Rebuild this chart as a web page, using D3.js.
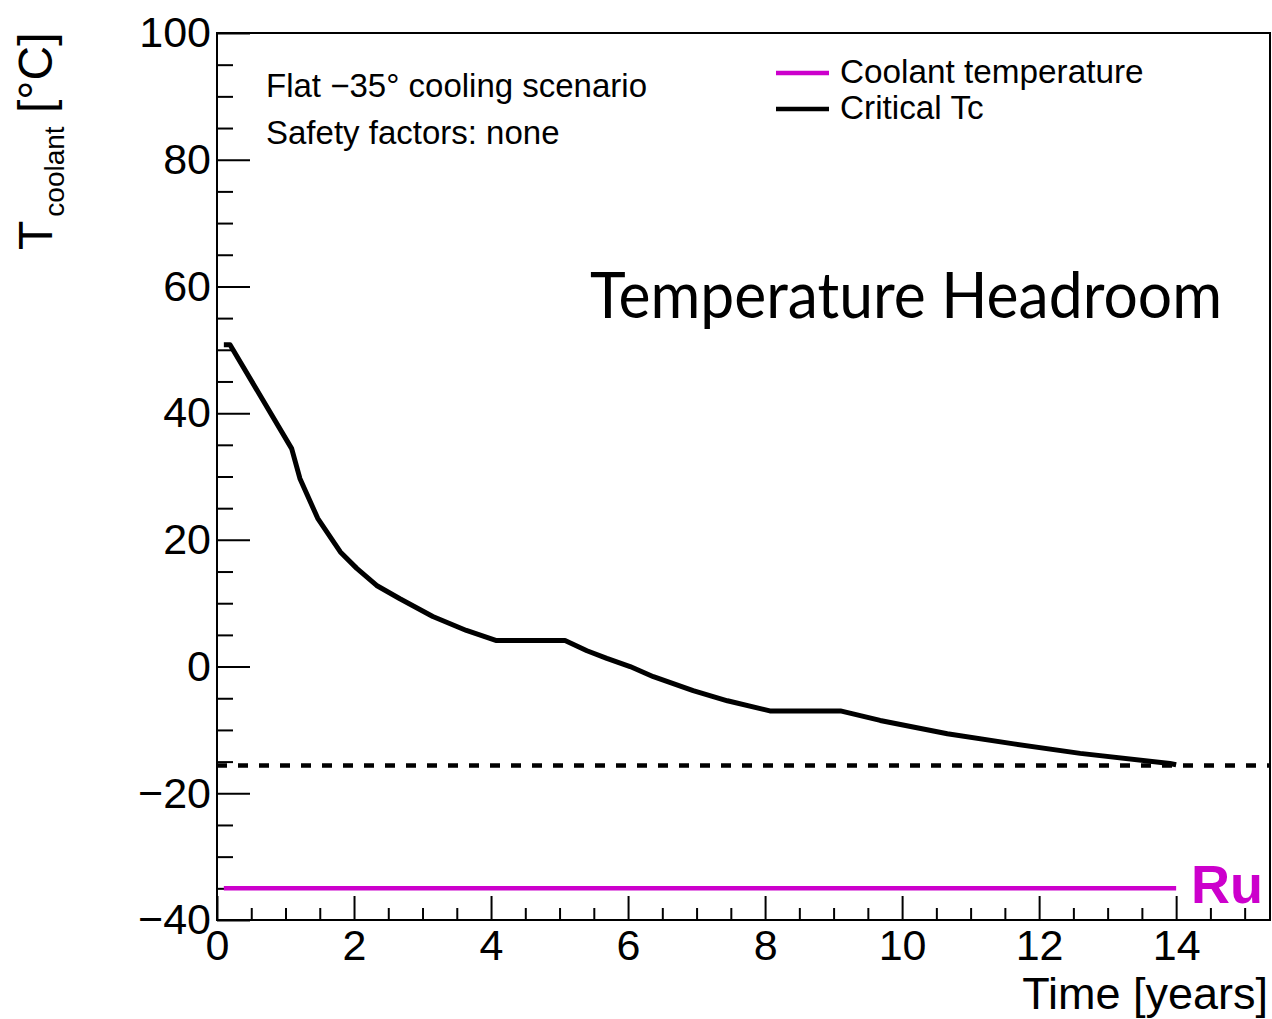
<!DOCTYPE html>
<html>
<head>
<meta charset="utf-8">
<script src="https://cdn.jsdelivr.net/npm/d3@7"></script>
<style>
  html, body { margin: 0; padding: 0; background: #fff; }
  svg { display: block; }
  text { font-family: "Liberation Sans", Arial, Helvetica, sans-serif; fill: #000; }
</style>
</head>
<body>
<svg id="chart" width="1272" height="1019"></svg>
<script>
// ---- Data ----
const timeYears = [0.10, 0.19, 1.09, 1.21, 1.47, 1.80, 2.04, 2.33, 2.67, 3.15, 3.64, 4.08, 5.08, 5.40, 5.69, 6.03, 6.37, 6.95, 7.45, 8.07, 9.10, 9.68, 10.66, 11.63, 12.60, 13.91, 14.00];
const criticalTc = [50.8, 50.8, 34.4, 29.7, 23.4, 18.1, 15.5, 12.8, 10.7, 7.9, 5.7, 4.1, 4.1, 2.5, 1.3, 0.0, -1.6, -3.8, -5.4, -7.0, -7.0, -8.5, -10.6, -12.2, -13.7, -15.3, -15.5];
const coolantTime = [0.1, 14.0];
const coolantTemp = [-35, -35];
const headroomLimit = -15.6;
const xMajorTicks = [0, 2, 4, 6, 8, 10, 12, 14];
const yMajorTicks = [-40, -20, 0, 20, 40, 60, 80, 100];
const xDomain = [0, 15.37];
const yDomain = [-40, 100];
const legendLabels = ["Coolant temperature", "Critical Tc"];
const infoLines = ["Flat \u221235\u00B0 cooling scenario", "Safety factors: none"];

// ---- Layout ----
const L = 217, R = 1270, T = 33, B = 920;
const svg = d3.select("#chart");
const x = d3.scaleLinear().domain(xDomain).range([L, R]);
const y = d3.scaleLinear().domain(yDomain).range([B, T]);
const MAG = "#cc00cc";

// minor ticks
const xMinor = d3.range(0, 15.37, 0.5).filter(v => Math.abs(v % 2) > 1e-9);
const yMinor = d3.range(-40, 100.01, 5).filter(v => Math.abs(v % 20) > 1e-9);

// X axis
const gx = svg.append("g").attr("transform", `translate(0,${B})`);
gx.call(d3.axisBottom(x).tickValues(xMajorTicks).tickSize(-24).tickPadding(9).tickFormat(d3.format("d")));
const gxm = svg.append("g").attr("transform", `translate(0,${B})`);
gxm.call(d3.axisBottom(x).tickValues(xMinor).tickSize(-12).tickFormat(""));

// Y axis
const gy = svg.append("g").attr("transform", `translate(${L},0)`);
gy.call(d3.axisLeft(y).tickValues(yMajorTicks).tickSize(-33).tickPadding(6).tickFormat(d3.format("d")));
const gym = svg.append("g").attr("transform", `translate(${L},0)`);
gym.call(d3.axisLeft(y).tickValues(yMinor).tickSize(-16).tickFormat(""));

svg.selectAll(".domain").remove();
svg.selectAll(".tick line").attr("stroke", "#000").attr("stroke-width", 2);
svg.selectAll(".tick text").attr("font-size", 43).attr("fill", "#000")
   .style("font-family", "'Liberation Sans', Arial, sans-serif");

// Frame
svg.append("rect").attr("x", L).attr("y", T).attr("width", R - L).attr("height", B - T)
   .attr("fill", "none").attr("stroke", "#000").attr("stroke-width", 2);

// Dashed headroom line
svg.append("line")
   .attr("x1", x(xDomain[0])).attr("x2", x(xDomain[1]))
   .attr("y1", y(headroomLimit)).attr("y2", y(headroomLimit))
   .attr("stroke", "#000").attr("stroke-width", 4.5).attr("stroke-dasharray", "10,11");

// Coolant line
const line = d3.line().x(d => x(d[0])).y(d => y(d[1]));
svg.append("path")
   .datum(coolantTime.map((t, i) => [t, coolantTemp[i]]))
   .attr("d", line).attr("fill", "none").attr("stroke", MAG).attr("stroke-width", 4.5);

// Critical Tc curve
svg.append("path")
   .datum(timeYears.map((t, i) => [t, criticalTc[i]]))
   .attr("d", line).attr("fill", "none").attr("stroke", "#000").attr("stroke-width", 5)
   .attr("stroke-linejoin", "round");

// Ru label
svg.append("text").attr("x", 1191).attr("y", 903).attr("font-size", 54).attr("font-weight", "bold")
   .attr("fill", MAG).style("fill", MAG).text("Ru");

// Info text
infoLines.forEach((s, i) => {
  svg.append("text").attr("x", 266).attr("y", 97 + i * 47).attr("font-size", 33).text(s);
});

// Legend
const legColors = [MAG, "#000"];
legendLabels.forEach((s, i) => {
  const yy = 73 + i * 36;
  svg.append("line").attr("x1", 776).attr("x2", 829).attr("y1", yy).attr("y2", yy)
     .attr("stroke", legColors[i]).attr("stroke-width", 4.5);
  svg.append("text").attr("x", 840).attr("y", yy + 10).attr("font-size", 33.3).text(s);
});

// Title
svg.append("text").attr("x", 590).attr("y", 318).attr("font-size", 64)
   .attr("textLength", 632).attr("lengthAdjust", "spacingAndGlyphs")
   .style("font-family", "Lato, 'Open Sans', sans-serif")
   .text("Temperature Headroom");

// X title
svg.append("text").attr("x", 1268).attr("y", 1009).attr("font-size", 45)
   .attr("text-anchor", "end").text("Time [years]");

// Y title
const yt = svg.append("text").attr("transform", "translate(52,250) rotate(-90)").attr("font-size", 48);
yt.append("tspan").text("T");
yt.append("tspan").attr("font-size", 28).attr("dy", 12).attr("dx", 4).text("coolant");
yt.append("tspan").attr("dy", -12).text(" [\u00B0C]");
</script>
</body>
</html>
